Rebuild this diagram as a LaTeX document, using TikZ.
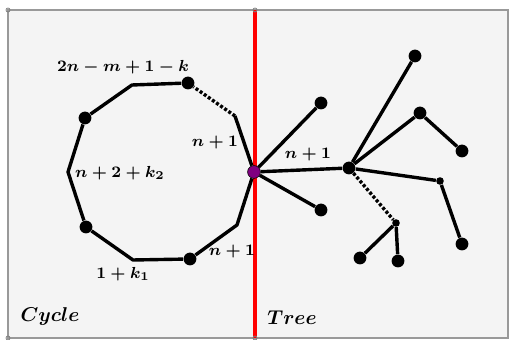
\documentclass[tikz,border=0pt]{standalone}
\usepackage{amsfonts,amssymb,amsmath}
\usepackage{xcolor}
\usepackage{tikz}
\usetikzlibrary{arrows.meta}
\definecolor{panel}{RGB}{244,244,244}
\definecolor{hubpurple}{RGB}{128,0,128}
\begin{document}
\begin{tikzpicture}[x=0.5pt,y=-0.5pt,
dot/.style={shape=circle,fill=black,inner sep=0pt,minimum size=6.4pt},
tiny/.style={shape=circle,fill=black,inner sep=0pt,minimum size=3.8pt},
hub/.style={shape=circle,fill=hubpurple,draw=black,line width=0.3pt,inner sep=0pt,minimum size=6.4pt},
edge/.style={line width=1.7pt,line join=round},
dots/.style={line width=1.7pt,dash pattern=on 1.5pt off 1pt},
lbl/.style={font=\footnotesize}]
\useasboundingbox(0,0)rectangle(510,340);
\fill[panel,draw=gray!80,line width=1.3pt](8,10)rectangle(508,338);
\draw[red,line width=1.8pt](255,10)--(255,338);
\draw[gray,line width=0.4pt](8,10)circle(1pt)
(255,10)circle(1pt)
(255,338)circle(1pt)
(8,338)circle(1pt);
% cycle
\node[hub](h)at(254,172){};
\coordinate(ca)at(235,116);
\node[dot](c1)at(188,83){};
\coordinate(cb)at(132,85);
\node[dot](c2)at(85,118){};
\coordinate(cc)at(68,172);
\node[dot](c3)at(86,227){};
\coordinate(cd)at(133,260);
\node[dot](c4)at(190,259){};
\coordinate(ce)at(237,225);
\draw[edge](h)--(ca);
\draw[dots](ca)--(c1);
\draw[edge](c1)--(cb)--(c2)--(cc)--(c3)--(cd)--(c4)--(ce)--(h);
% tree
\node[dot](t0)at(349,168){};
\node[dot](l1)at(321,103){};
\node[dot](l2)at(321,210){};
\node[dot](l3)at(415,56){};
\node[dot](t1)at(420,113){};
\node[dot](l4)at(462,151){};
\node[tiny](s1)at(440,181){};
\node[dot](l5)at(462,244){};
\node[tiny](s2)at(396,223){};
\node[dot](l6)at(360,258){};
\node[dot](l7)at(398,261){};
\draw[edge](h)--(t0);
\draw[edge](h)--(l1);
\draw[edge](h)--(l2);
\draw[edge](t0)--(l3);
\draw[edge](t0)--(t1)--(l4);
\draw[edge](t0)--(s1)--(l5);
\draw[dots](t0)--(s2);
\draw[edge](s2)--(l6);
\draw[edge](s2)--(l7);
% labels
\node[lbl](la)at(123,67){$\boldsymbol{2n-m+1-k}$};
\node[lbl](lb)at(215,143){$\boldsymbol{n+1}$};
\node[lbl](lc)at(120,173){$\boldsymbol{n+2+k_2}$};
\node[lbl](ld)at(123,274){$\boldsymbol{1+k_1}$};
\node[lbl](le)at(232,252){$\boldsymbol{n+1}$};
\node[lbl](lf)at(308,155){$\boldsymbol{n+1}$};
\node(cyc)at(50,317){$\boldsymbol{Cycle}$};
\node(tre)at(292,318){$\boldsymbol{Tree}$};
\end{tikzpicture}
\end{document}
